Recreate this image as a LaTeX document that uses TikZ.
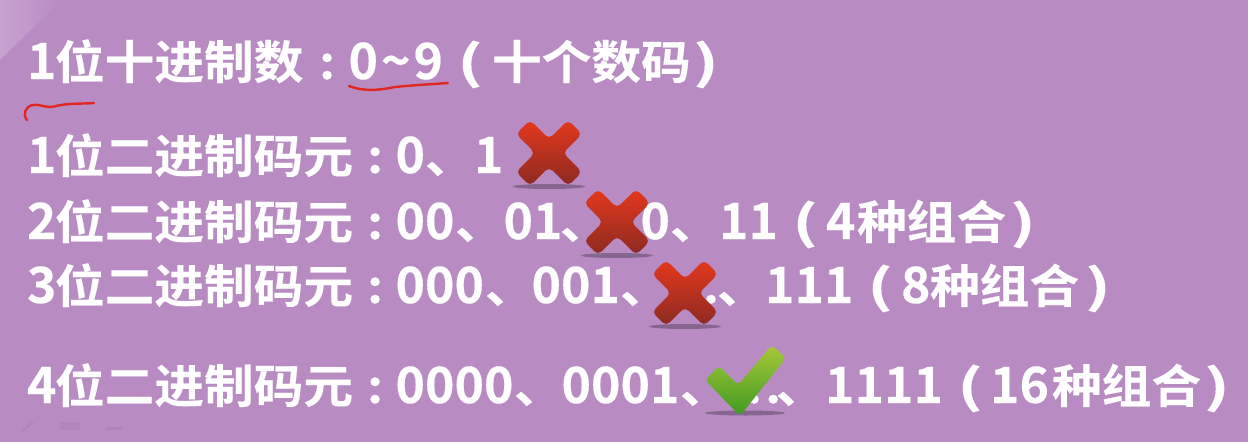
\documentclass[tikz,border=0pt]{standalone}
\usepackage{fontspec}
\usetikzlibrary{shadings}
\newfontfamily\cjkb[FakeStretch=1.08,FakeBold=0.25]{Noto Sans CJK SC Bold}
\newfontfamily\digb[FakeBold=0.3]{Noto Sans CJK SC Bold}
\newfontfamily\parb[FakeStretch=1.5,FakeBold=0.3]{Noto Sans CJK SC Bold}
\definecolor{bgp}{HTML}{B88CC3}
\definecolor{bgl}{HTML}{C7A2D0}
\definecolor{redl}{HTML}{E0261E}
\definecolor{xtop}{HTML}{E4381C}
\definecolor{xbot}{HTML}{8C2A22}
\definecolor{ctop}{HTML}{A8C838}
\definecolor{cbot}{HTML}{3F9A22}
\tikzset{
 lbl/.style={anchor=base west,inner sep=0pt,outer sep=0pt,text=white,font=\cjkb\fontsize{46}{46}\selectfont},
 num/.style={anchor=base west,inner sep=0pt,outer sep=0pt,text=white,font=\digb\fontsize{50}{50}\selectfont},
 par/.style={anchor=base,inner sep=0pt,outer sep=0pt,text=white,font=\parb\fontsize{46}{46}\selectfont},
 ink/.style={draw=redl,line width=2.4pt,line cap=round,line join=round},
 shadowmark/.style={fill=black!45!bgp,opacity=.6}
}
\newcommand{\crossmark}[2]{%
 \fill[shadowmark] (#1,#2+33.5) ellipse [x radius=36pt,y radius=2.5pt];
 \path[rounded corners=5pt,top color=xtop,bottom color=xbot]
  (#1-33,#2-19) -- (#1-19,#2-33) -- (#1,#2-14) -- (#1+19,#2-33) -- (#1+33,#2-19)
  -- (#1+14,#2) -- (#1+33,#2+19) -- (#1+19,#2+33) -- (#1,#2+14) -- (#1-19,#2+33)
  -- (#1-33,#2+19) -- (#1-14,#2) -- cycle;
}
\begin{document}
\begin{tikzpicture}[x=1pt,y=-1pt]
\useasboundingbox (0,0) rectangle (1248,442);
\fill[bgp] (0,0) rectangle (1248,442);
\path[left color=bgl,right color=bgp] (0,0) -- (62,0) -- (0,60) -- cycle;
% faint toolbar
\draw[bgp!88!black,line width=2pt,opacity=.4] (22,431) -- (33,422);
\draw[bgp!88!black,line width=8pt,opacity=.3] (60,426) -- (80,426);
\draw[bgp!88!black,line width=3pt,opacity=.4] (106,428) -- (122,428);
% line 1
\node[num] (a1) at (27,79) {1};
\node[lbl] (a2) at (55,79) {位十进制数};
\node[lbl] (a3) at (319,79) {:};
\node[num] (a4) at (348.5,79) {0\kern3pt\~{}\kern3pt 9};
\node[par] (a5) at (470,79) {(};
\node[lbl] (a6) at (492,79) {十个数码};
\node[par] (a7) at (706,79) {)};
% line 2
\node[num] (b1) at (27,173) {1};
\node[lbl] (b2) at (55,173) {位二进制码元};
\node[lbl] (b3) at (367,173) {:};
\node[num] (b4) at (395.5,173) {0};
\node[lbl] (b5) at (425,173) {、};
\node[num] (b6) at (474,173) {1};
% line 3
\node[num] (c1) at (27,239) {2};
\node[lbl] (c2) at (55,239) {位二进制码元};
\node[lbl] (c3) at (367,239) {:};
\node[num] (c4) at (395.5,239) {00};
\node[lbl] (c5) at (455,239) {、};
\node[num] (c6) at (503.5,239) {01};
\node[lbl] (c7) at (560,239) {、};
\node[num] (c8) at (640.5,239) {0};
\node[lbl] (c9) at (670,239) {、};
\node[num] (c10) at (719,239) {11};
\node[par] (c11) at (805,239) {(};
\node[num] (c12) at (826,239) {4};
\node[lbl] (c13) at (857,239) {种组合};
\node[par] (c14) at (1023,239) {)};
% line 4
\node[num] (d1) at (27,303) {3};
\node[lbl] (d2) at (55,303) {位二进制码元};
\node[lbl] (d3) at (367,303) {:};
\node[num] (d4) at (395.5,303) {000};
\node[lbl] (d5) at (485,303) {、};
\node[num] (d6) at (531.5,303) {001};
\node[lbl] (d7) at (620,303) {、};
\node[lbl] (d8) at (703,303) {.};
\node[lbl] (d9) at (717,303) {、};
\node[num] (d10) at (765,303) {111};
\node[par] (d11) at (880,303) {(};
\node[num] (d12) at (901,303) {8};
\node[lbl] (d13) at (930,303) {种组合};
\node[par] (d14) at (1098,303) {)};
% line 5
\node[num] (e1) at (27,403) {4};
\node[lbl] (e2) at (55,403) {位二进制码元};
\node[lbl] (e3) at (367,403) {:};
\node[num] (e4) at (395.5,403) {0000};
\node[lbl] (e5) at (514,403) {、};
\node[num] (e6) at (561.5,403) {0001};
\node[lbl] (e7) at (680,403) {、};
\node[lbl] (e8) at (746,403) {.\kern3pt.};
\node[lbl] (e9) at (776,403) {、};
\node[num] (e10) at (825,403) {1111};
\node[par] (e11) at (970,403) {(};
\node[num] (e12) at (990,403) {16};
\node[lbl] (e13) at (1052,403) {种组合};
\node[par] (e14) at (1217,403) {)};
% ink
\draw[ink] (349,86) .. controls (365,92) and (380,90) .. (395,87) .. controls (415,85) and (435,84) .. (448,83);
\draw[ink] (27,120) .. controls (22,114) and (26,106) .. (33,105) .. controls (42,104) and (46,109) .. (56,106) .. controls (68,103) and (82,104) .. (94,103);
% marks
\crossmark{549}{153}
\crossmark{617}{222}
\crossmark{685}{293}
\fill[shadowmark] (745,413) ellipse [x radius=40pt,y radius=2.5pt];
\path[rounded corners=4pt,top color=ctop,bottom color=cbot]
 (705,380) -- (719,366) -- (738,385) -- (772,345) -- (786,358) -- (740,416) -- cycle;
\end{tikzpicture}
\end{document}
